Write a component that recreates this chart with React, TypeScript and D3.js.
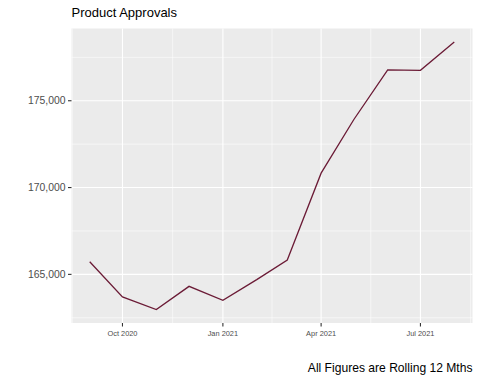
import React from "react";
import * as d3 from "d3";

const months = ["2020-09-01","2020-10-01","2020-11-01","2020-12-01","2021-01-01","2021-02-01","2021-03-01","2021-04-01","2021-05-01","2021-06-01","2021-07-01","2021-08-01"];
const approvals = [165730, 163700, 162970, 164310, 163510, 164700, 165830, 170830, 173920, 176780, 176750, 178390];
const yTicks = [165000, 170000, 175000];
const yMinor = [162500, 167500, 172500, 177500];
const xTicks = ["2020-10-01","2021-01-01","2021-04-01","2021-07-01"];
const xTickLabels = ["Oct 2020","Jan 2021","Apr 2021","Jul 2021"];
const xBreaksAll = ["2020-07-01","2020-10-01","2021-01-01","2021-04-01","2021-07-01","2021-10-01"];
const title = "Product Approvals";
const caption = "All Figures are Rolling 12 Mths";

const W = 480, H = 384;
const M = { left: 71.5, right: 7.5, top: 28.5, bottom: 61 };

export default function App() {
  const parse = (s: string) => new Date(s + "T00:00:00Z");
  const dates = months.map(parse);
  const x0 = d3.min(dates)!.getTime(), x1 = d3.max(dates)!.getTime();
  const xPad = (x1 - x0) * 0.05;
  const x = d3.scaleUtc().domain([new Date(x0 - xPad), new Date(x1 + xPad)]).range([M.left, W - M.right]);
  const yMin = d3.min(approvals)!, yMax = d3.max(approvals)!;
  const yPad = (yMax - yMin) * 0.05;
  const y = d3.scaleLinear().domain([yMin - yPad, yMax + yPad]).range([H - M.bottom, M.top]);
  const fmt = d3.format(",");
  const line = d3.line<number>().x((_, i) => x(dates[i])).y((v) => y(v));
  const allB = xBreaksAll.map(parse);
  const xMinor = allB.slice(1).map((d, i) => new Date((d.getTime() + allB[i].getTime()) / 2));
  const inX = (px: number) => px >= M.left && px <= W - M.right;
  const font = "Liberation Sans, Arial, sans-serif";
  return (
    <svg width={W} height={H} style={{ position: "absolute", left: 0, top: 0, fontFamily: font }}>
      <rect x={0} y={0} width={W} height={H} fill="#ffffff" />
      <rect x={M.left} y={M.top} width={W - M.left - M.right} height={H - M.top - M.bottom} fill="#EBEBEB" />
      {yMinor.map((v) => y(v) >= M.top && y(v) <= H - M.bottom ? (
        <line key={"ym" + v} x1={M.left} x2={W - M.right} y1={y(v)} y2={y(v)} stroke="#fff" strokeWidth={0.55} />
      ) : null)}
      {xMinor.map((d, i) => inX(x(d)) ? (
        <line key={"xm" + i} x1={x(d)} x2={x(d)} y1={M.top} y2={H - M.bottom} stroke="#fff" strokeWidth={0.55} />
      ) : null)}
      {yTicks.map((v) => (
        <line key={"yg" + v} x1={M.left} x2={W - M.right} y1={y(v)} y2={y(v)} stroke="#fff" strokeWidth={1.1} />
      ))}
      {xTicks.map((s) => (
        <line key={"xg" + s} x1={x(parse(s))} x2={x(parse(s))} y1={M.top} y2={H - M.bottom} stroke="#fff" strokeWidth={1.1} />
      ))}
      <path d={line(approvals) || ""} fill="none" stroke="#6b1b36" strokeWidth={1.3} />
      {yTicks.map((v) => (
        <g key={"yt" + v}>
          <line x1={M.left - 3.5} x2={M.left} y1={y(v)} y2={y(v)} stroke="#333" strokeWidth={1.1} />
          <text x={M.left - 6} y={y(v)} dy="0.35em" textAnchor="end" fontSize={10.4} fill="#4d4d4d">{fmt(v)}</text>
        </g>
      ))}
      {xTicks.map((s, i) => (
        <g key={"xt" + s}>
          <line x1={x(parse(s))} x2={x(parse(s))} y1={H - M.bottom} y2={H - M.bottom + 3.5} stroke="#333" strokeWidth={1.1} />
          <text x={x(parse(s))} y={H - M.bottom + 13} textAnchor="middle" fontSize={7.4} fill="#4d4d4d">{xTickLabels[i]}</text>
        </g>
      ))}
      <text x={M.left} y={16.5} fontSize={13} fill="#000">{title}</text>
      <text x={W - M.right} y={372} textAnchor="end" fontSize={12.1} fill="#000">{caption}</text>
    </svg>
  );
}
